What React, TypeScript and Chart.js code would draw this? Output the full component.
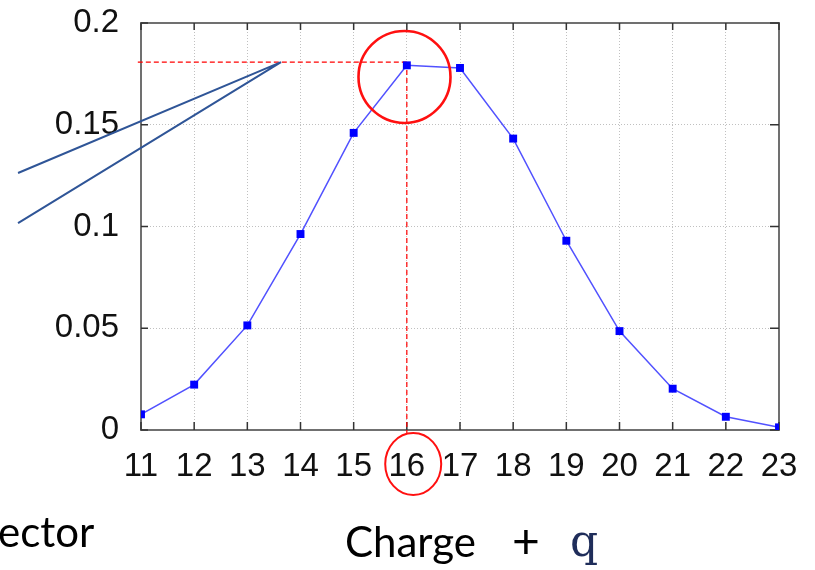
import React, { useEffect, useRef } from "react";
import { Chart, registerables } from "chart.js";

Chart.register(...registerables);

// ---- data ----
const charges = [11, 12, 13, 14, 15, 16, 17, 18, 19, 20, 21, 22, 23];
const probability = [0.0077, 0.0223, 0.0514, 0.0963, 0.146, 0.1792, 0.1779, 0.1432, 0.093, 0.0486, 0.0203, 0.0065, 0.0013];
const xTickLabels = ["11", "12", "13", "14", "15", "16", "17", "18", "19", "20", "21", "22", "23"];
const yTickValues = [0, 0.05, 0.1, 0.15, 0.2];
const yTickLabels = ["0", "0.05", "0.1", "0.15", "0.2"];

// ---- annotations (data units) ----
const guideY = 0.1808;
const guideXStart = 10.94;
const guideX = 16;
const pointerApex = { x: 13.633, y: 0.1808 };
const pointerEnds = [
  { x: 8.687, y: 0.1263 },
  { x: 8.687, y: 0.1017 },
];
const peakCircle = { x: 15.956, y: 0.1735 };
const labelCircleX = 16.12;

const annotationPlugin = {
  id: "annotations",
  beforeDatasetsDraw(chart: any) {
    const { ctx, chartArea, scales } = chart;
    const xs = scales.x;
    const ys = scales.y;
    ctx.save();
    // frame
    ctx.strokeStyle = "#707070";
    ctx.lineWidth = 2;
    ctx.strokeRect(chartArea.left, chartArea.top, chartArea.right - chartArea.left, chartArea.bottom - chartArea.top);
    // inward ticks
    ctx.strokeStyle = "#333";
    ctx.lineWidth = 1.5;
    ctx.beginPath();
    charges.forEach((v) => {
      const px = xs.getPixelForValue(v);
      ctx.moveTo(px, chartArea.top);
      ctx.lineTo(px, chartArea.top + 7);
      ctx.moveTo(px, chartArea.bottom);
      ctx.lineTo(px, chartArea.bottom - 8);
    });
    yTickValues.forEach((v) => {
      const py = ys.getPixelForValue(v);
      ctx.moveTo(chartArea.left, py);
      ctx.lineTo(chartArea.left + 7, py);
      ctx.moveTo(chartArea.right, py);
      ctx.lineTo(chartArea.right - 9, py);
    });
    ctx.stroke();
    // red dashed guides
    ctx.strokeStyle = "#ff0000";
    ctx.lineWidth = 1.2;
    ctx.setLineDash([5, 3]);
    const gy = ys.getPixelForValue(guideY);
    const gx = xs.getPixelForValue(guideX);
    ctx.beginPath();
    ctx.moveTo(xs.getPixelForValue(guideXStart), gy);
    ctx.lineTo(gx, gy);
    ctx.moveTo(gx, gy);
    ctx.lineTo(gx, chartArea.bottom + 3);
    ctx.stroke();
    ctx.restore();
  },
  afterDatasetsDraw(chart: any) {
    const { ctx, chartArea, scales } = chart;
    const xs = scales.x;
    const ys = scales.y;
    ctx.save();
    // pointer lines
    ctx.strokeStyle = "#2F5597";
    ctx.lineWidth = 2;
    ctx.beginPath();
    pointerEnds.forEach((e) => {
      ctx.moveTo(xs.getPixelForValue(pointerApex.x), ys.getPixelForValue(pointerApex.y));
      ctx.lineTo(xs.getPixelForValue(e.x), ys.getPixelForValue(e.y));
    });
    ctx.stroke();
    // circles
    ctx.strokeStyle = "#ff1010";
    ctx.lineWidth = 2.6;
    ctx.beginPath();
    ctx.arc(xs.getPixelForValue(peakCircle.x), ys.getPixelForValue(peakCircle.y), 46, 0, Math.PI * 2);
    ctx.stroke();
    ctx.lineWidth = 2;
    ctx.beginPath();
    ctx.ellipse(xs.getPixelForValue(labelCircleX), chartArea.bottom + 34, 28, 31, 0, 0, Math.PI * 2);
    ctx.stroke();
    ctx.restore();
  },
};

export default function App() {
  const ref = useRef<HTMLCanvasElement | null>(null);
  useEffect(() => {
    if (!ref.current) return;
    const chart = new Chart(ref.current, {
      type: "line",
      data: {
        datasets: [
          {
            data: charges.map((c, i) => ({ x: c, y: probability[i] })),
            borderColor: "rgba(50,50,255,0.85)",
            borderWidth: 1.5,
            backgroundColor: "#0000ff",
            pointBackgroundColor: "#0000ff",
            pointBorderWidth: 0,
            pointStyle: "rect",
            pointRadius: 5.6,
            tension: 0,
          },
        ],
      },
      options: {
        animation: false,
        responsive: false,
        layout: { padding: { left: 0, top: 23, right: 36, bottom: 0 } },
        plugins: { legend: { display: false }, tooltip: { enabled: false } },
        scales: {
          x: {
            type: "linear",
            min: 11,
            max: 23,
            afterFit(scale: any) {
              scale.height = 140;
              scale.paddingLeft = 0;
              scale.paddingRight = 0;
            },
            afterBuildTicks(scale: any) {
              scale.ticks = charges.map((v) => ({ value: v }));
            },
            ticks: {
              padding: 17,
              color: "#111",
              font: { family: "'Liberation Sans', Arial, sans-serif", size: 33 },
              callback: (v: any) => xTickLabels[charges.indexOf(Number(v))] ?? "",
              maxRotation: 0,
              autoSkip: false,
            },
            grid: { color: "#c0c0c0", lineWidth: 1, drawTicks: false },
            border: { display: false, dash: [1, 2] },
          },
          y: {
            type: "linear",
            min: 0,
            max: 0.2,
            afterFit(scale: any) {
              scale.width = 141;
              scale.paddingTop = 0;
              scale.paddingBottom = 0;
            },
            afterBuildTicks(scale: any) {
              scale.ticks = yTickValues.map((v) => ({ value: v }));
            },
            ticks: {
              padding: 22,
              color: "#111",
              font: { family: "'Liberation Sans', Arial, sans-serif", size: 33 },
              callback: (v: any, i: number) => yTickLabels[i] ?? "",
              autoSkip: false,
            },
            grid: { color: "#c0c0c0", lineWidth: 1, drawTicks: false },
            border: { display: false, dash: [1, 2] },
          },
        },
      },
      plugins: [annotationPlugin],
    } as any);
    return () => chart.destroy();
  }, []);

  const sans = "Lato, 'Open Sans', sans-serif";
  return (
    <div style={{ position: "absolute", left: 0, top: 0, width: 815, height: 570, overflow: "hidden", background: "#fff" }}>
      <canvas ref={ref} width={815} height={570} style={{ position: "absolute", left: 0, top: 0, width: 815, height: 570 }} />
      <span style={{ position: "absolute", left: -2, top: 510, fontFamily: sans, fontSize: 42, lineHeight: "42px", color: "#000", whiteSpace: "nowrap" }}>ector</span>
      <span style={{ position: "absolute", left: 345, top: 520, fontFamily: sans, fontSize: 42, lineHeight: "42px", color: "#000", whiteSpace: "nowrap" }}>Charge</span>
      <span style={{ position: "absolute", left: 512, top: 516, fontFamily: sans, fontSize: 48, lineHeight: "48px", color: "#000", fontWeight: 400, whiteSpace: "nowrap" }}>+</span>
      <span style={{ position: "absolute", left: 570, top: 519, fontFamily: "'DejaVu Serif', 'Liberation Serif', serif", fontSize: 44, lineHeight: "44px", color: "#1F2D5A", whiteSpace: "nowrap" }}>q</span>
    </div>
  );
}
